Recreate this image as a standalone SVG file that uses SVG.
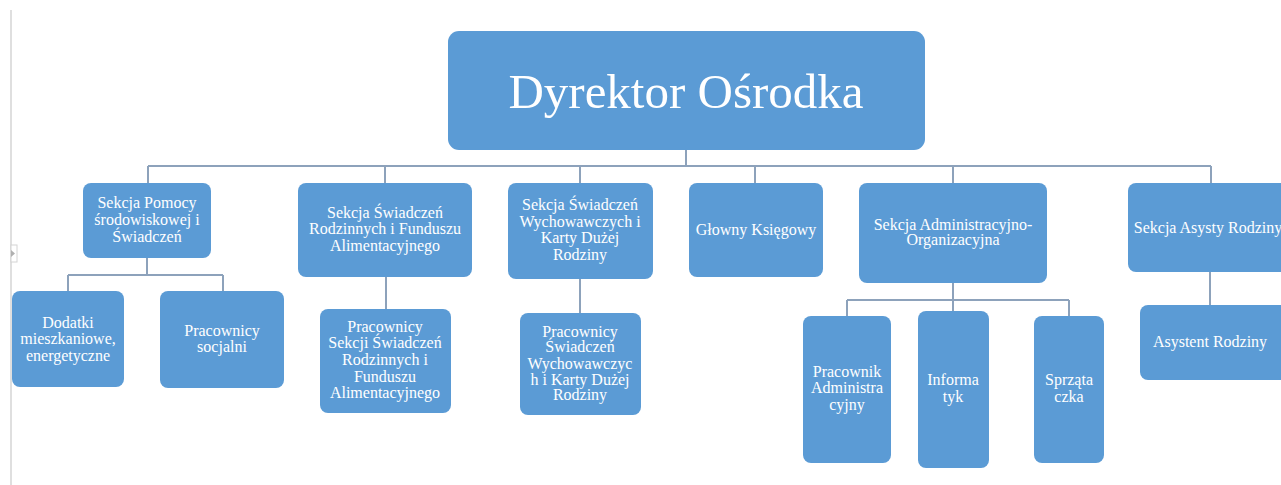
<svg xmlns="http://www.w3.org/2000/svg" width="1281" height="485" viewBox="0 0 1281 485">
<style>
.box{fill:#5B9BD5;}
.t{font-family:"Liberation Serif","Times New Roman",serif;font-size:16px;fill:#ffffff;text-anchor:middle;}
.big{font-size:49px;}
.c{stroke:#8DA2BB;stroke-width:2;fill:none;}
</style>
<rect width="1281" height="485" fill="#ffffff"/>
<g id="chrome">
<line x1="11" y1="10" x2="11" y2="485" stroke="#d4d4d4" stroke-width="1.5"/>
<rect x="11" y="245" width="6" height="17" fill="#ffffff" stroke="#d4d4d4" stroke-width="1"/>
<polygon points="11,250 15,253.5 11,257" fill="#b0b0b0"/>
</g>
<g id="connectors">
<path class="c" d="M686,150 V166 M148,166 H1211 M148,166 V183 M385,166 V183 M580,166 V183 M755,166 V183 M953,166 V183 M1211,166 V183"/>
<path class="c" d="M147,258 V275 M68,275 H223 M68,275 V291 M223,275 V291"/>
<path class="c" d="M386,277 V309"/>
<path class="c" d="M580,279 V313"/>
<path class="c" d="M953,283 V311 M847,300 H1069 M847,300 V316 M1069,300 V316"/>
<path class="c" d="M1210,272 V305"/>
</g>
<g id="n-dyrektor">
<rect class="box" x="448" y="31" width="477" height="119" rx="11"/>
<text class="t big" x="686" y="108">Dyrektor Ośrodka</text>
</g>
<g id="n-pomocy">
<rect class="box" x="83" y="183" width="128" height="75" rx="8"/>
<text class="t" x="147" y="208">Sekcja Pomocy</text>
<text class="t" x="147" y="225">środowiskowej i</text>
<text class="t" x="147" y="242">Świadczeń</text>
</g>
<g id="n-rodzinnych">
<rect class="box" x="298" y="183" width="174" height="94" rx="8"/>
<text class="t" x="385" y="218">Sekcja Świadczeń</text>
<text class="t" x="385" y="234">Rodzinnych i Funduszu</text>
<text class="t" x="385" y="251">Alimentacyjnego</text>
</g>
<g id="n-wychowawczych">
<rect class="box" x="508" y="183" width="145" height="96" rx="8"/>
<text class="t" x="580" y="210">Sekcja Świadczeń</text>
<text class="t" x="580" y="227">Wychowawczych i</text>
<text class="t" x="580" y="243">Karty Dużej</text>
<text class="t" x="580" y="260">Rodziny</text>
</g>
<g id="n-ksiegowy">
<rect class="box" x="689" y="183" width="134" height="94" rx="8"/>
<text class="t" x="756" y="235">Głowny Księgowy</text>
</g>
<g id="n-admin">
<rect class="box" x="859" y="183" width="188" height="100" rx="8"/>
<text class="t" x="953" y="230">Sekcja Administracyjno-</text>
<text class="t" x="953" y="245">Organizacyjna</text>
</g>
<g id="n-asysty">
<rect class="box" x="1128" y="183" width="165" height="89" rx="8"/>
<text class="t" x="1208" y="233">Sekcja Asysty Rodziny</text>
</g>
<g id="n-dodatki">
<rect class="box" x="12" y="291" width="112" height="96" rx="8"/>
<text class="t" x="68" y="328">Dodatki</text>
<text class="t" x="68" y="344">mieszkaniowe,</text>
<text class="t" x="68" y="361">energetyczne</text>
</g>
<g id="n-socjalni">
<rect class="box" x="160" y="291" width="124" height="97" rx="8"/>
<text class="t" x="222" y="336">Pracownicy</text>
<text class="t" x="222" y="352">socjalni</text>
</g>
<g id="n-prac-rodzinnych">
<rect class="box" x="320" y="309" width="131" height="104" rx="8"/>
<text class="t" x="385" y="332">Pracownicy</text>
<text class="t" x="385" y="348">Sekcji Świadczeń</text>
<text class="t" x="385" y="365">Rodzinnych i</text>
<text class="t" x="385" y="382">Funduszu</text>
<text class="t" x="385" y="398">Alimentacyjnego</text>
</g>
<g id="n-prac-wychowawczych">
<rect class="box" x="520" y="313" width="121" height="102" rx="8"/>
<text class="t" x="580" y="337">Pracownicy</text>
<text class="t" x="580" y="352">Świadczeń</text>
<text class="t" x="580" y="369">Wychowawczyc</text>
<text class="t" x="580" y="385">h i Karty Dużej</text>
<text class="t" x="580" y="400">Rodziny</text>
</g>
<g id="n-pracownik-admin">
<rect class="box" x="803" y="316" width="88" height="147" rx="8"/>
<text class="t" x="847" y="377">Pracownik</text>
<text class="t" x="847" y="393">Administra</text>
<text class="t" x="847" y="410">cyjny</text>
</g>
<g id="n-informatyk">
<rect class="box" x="918" y="311" width="71" height="157" rx="8"/>
<text class="t" x="953" y="385">Informa</text>
<text class="t" x="953" y="402">tyk</text>
</g>
<g id="n-sprzataczka">
<rect class="box" x="1034" y="316" width="70" height="147" rx="8"/>
<text class="t" x="1069" y="385">Sprząta</text>
<text class="t" x="1069" y="402">czka</text>
</g>
<g id="n-asystent">
<rect class="box" x="1140" y="305" width="150" height="75" rx="8"/>
<text class="t" x="1210" y="347">Asystent Rodziny</text>
</g>
</svg>
